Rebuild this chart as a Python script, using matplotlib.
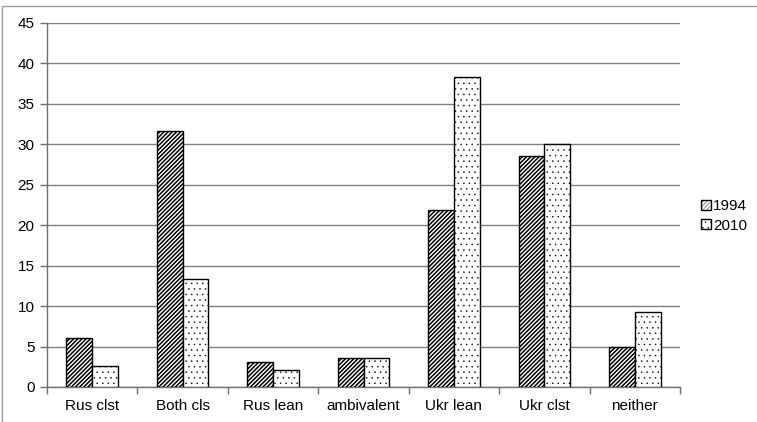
import matplotlib
matplotlib.use("Agg")
import matplotlib.pyplot as plt
import numpy as np
from matplotlib.patches import Rectangle

# Datos
categorias = ["Rus clst", "Both cls", "Rus lean", "ambivalent", "Ukr lean", "Ukr clst", "neither"]
v1994 = [6.0, 31.6, 3.1, 3.6, 21.9, 28.6, 4.9]
v2010 = [2.6, 13.4, 2.1, 3.6, 38.3, 30.1, 9.3]

plt.rcParams['font.family'] = ['Liberation Sans', 'DejaVu Sans']
plt.rcParams['font.size'] = 11

fig = plt.figure(figsize=(7.57, 4.22), dpi=100)
ax = fig.add_axes([47 / 757, 1 - 387 / 422, (680 - 47) / 757, (387 - 23) / 422])

x = np.arange(len(categorias))
ancho = 0.285
plt.rcParams['hatch.linewidth'] = 1.1
ax.bar(x - ancho / 2, v1994, ancho, color='white', edgecolor='black', hatch='////////',
       linewidth=1.0, label='1994', zorder=3)
plt.rcParams['hatch.linewidth'] = 0.3
ax.bar(x + ancho / 2, v2010, ancho, color='white', edgecolor='black', hatch='...',
       linewidth=1.0, label='2010', zorder=3)

ax.set_xlim(-0.5, len(categorias) - 0.5)
ax.set_ylim(0, 45)
ax.set_yticks(range(0, 46, 5))
ax.set_xticks(x)
ax.set_xticklabels(categorias)
ax.set_xticks(np.arange(-0.5, len(categorias), 1), minor=True)
ax.tick_params(axis='x', which='major', length=0, pad=9)
ax.tick_params(axis='x', which='minor', length=5, color='#707070', width=1)
ax.tick_params(axis='y', length=5, color='#707070', width=1, pad=4)

ax.grid(axis='y', color='#808080', linewidth=1, zorder=0)
for lado in ['top', 'right']:
    ax.spines[lado].set_visible(False)
for lado in ['left', 'bottom']:
    ax.spines[lado].set_color('#707070')
    ax.spines[lado].set_linewidth(1)

ax.legend(loc='center left', bbox_to_anchor=(1.0, 0.47), frameon=False,
          handlelength=0.6, handleheight=0.6, handletextpad=0.15, labelspacing=0.35,
          borderaxespad=1.0, fontsize=11)

# borde del gráfico
fig.patches.append(Rectangle((2 / 757, -0.05), 1.1, 1 - 6 / 422 + 0.05, transform=fig.transFigure,
                             fill=False, edgecolor='#a0a0a0', linewidth=1))

fig.savefig("out.png", dpi=100)
